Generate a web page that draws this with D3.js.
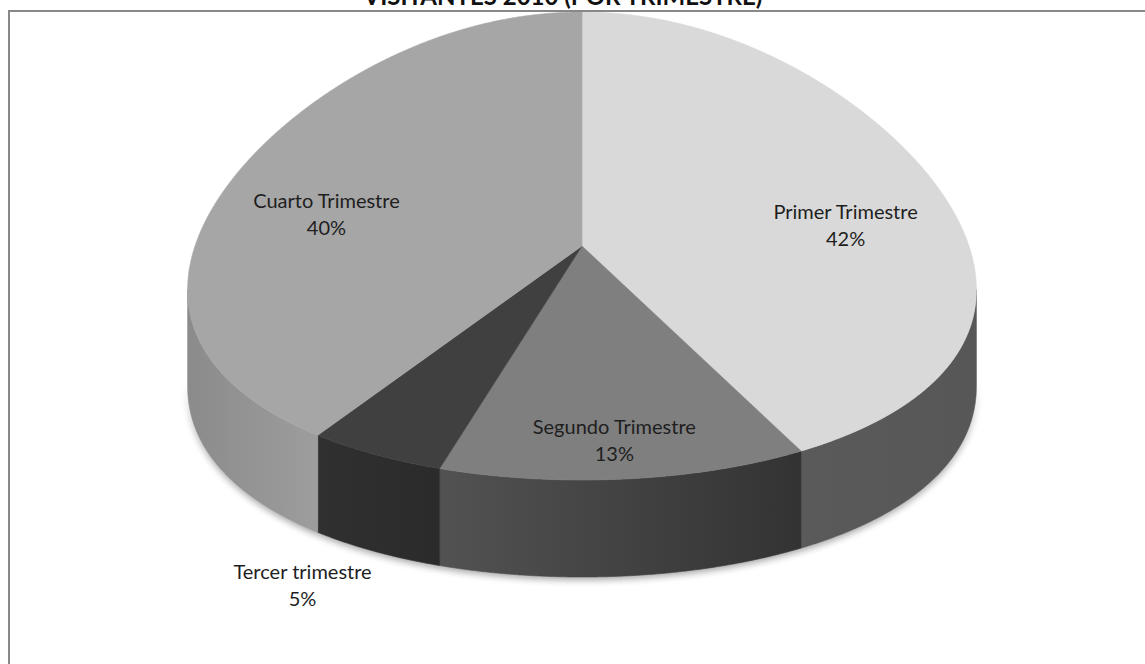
<!DOCTYPE html>
<html>
<head>
<meta charset="utf-8">
<script src="https://cdn.jsdelivr.net/npm/d3@7"></script>
<style>
  html, body { margin: 0; padding: 0; background: #ffffff; }
  svg { display: block; }
</style>
</head>
<body>
<svg id="chart" width="1145" height="664"></svg>
<script>
// ---- data ----
const title = "VISITANTES 2010 (POR TRIMESTRE)";
const categories = ["Primer Trimestre", "Segundo Trimestre", "Tercer trimestre", "Cuarto Trimestre"];
const values = [42, 13, 5, 40];
const percentLabels = ["42%", "13%", "5%", "40%"];

// ---- styles ----
const topColors = ["#d9d9d9", "#7f7f7f", "#404040", "#a6a6a6"];
const sideColorsLeft = ["#5a5a5a", "#525252", "#303030", "#8b8b8b"];
const sideColorsRight = ["#575757", "#333333", "#2b2b2b", "#9d9d9d"];
const labelOutside = [false, false, true, false];

const svg = d3.select("#chart");

// geometry of the 3D pie
const cx = 582, cy = 246, rx = 387, ry = 234, depth = 97, persp = 0.2;

function proj(theta, h) {
  const s = Math.sin(theta), c = Math.cos(theta);
  return [cx + rx * s * (1 - persp * c), cy - ry * c + h * depth];
}
function arcPoints(a0, a1, h) {
  const n = Math.max(2, Math.ceil(Math.abs(a1 - a0) / 0.004));
  return d3.range(n + 1).map(i => proj(a0 + (a1 - a0) * i / n, h));
}

const pie = d3.pie().sort(null).value(d => d)(values);
const line = d3.line();

// silhouette angles (widest points)
const cw = (1 - Math.sqrt(1 + 8 * persp * persp)) / (4 * persp);
const thR = Math.acos(cw), thL = 2 * Math.PI - thR;

const defs = svg.append("defs");
defs.append("filter").attr("id", "shadow").attr("x", "-10%").attr("y", "-10%").attr("width", "120%").attr("height", "130%")
  .append("feGaussianBlur").attr("stdDeviation", 3.5);

// shadow under pie
const shadowPts = arcPoints(thR, thL, 1).map(p => [p[0], p[1] + 3]);
const shadowTop = arcPoints(thL, thR, 1).map(p => [p[0], p[1] - 8]);
svg.append("path")
  .attr("d", line(shadowPts.concat(shadowTop)) + "Z")
  .attr("fill", "#000")
  .attr("opacity", 0.35)
  .attr("filter", "url(#shadow)");

// side walls
const sides = svg.append("g");
pie.forEach((d, i) => {
  const s0 = Math.max(d.startAngle, thR), s1 = Math.min(d.endAngle, thL);
  if (s0 >= s1) return;
  const topPts = arcPoints(s0, s1, 0);
  const botPts = arcPoints(s1, s0, 1);
  const xs = topPts.map(p => p[0]);
  const gid = "side" + i;
  const g = defs.append("linearGradient").attr("id", gid)
    .attr("gradientUnits", "userSpaceOnUse")
    .attr("x1", d3.min(xs)).attr("x2", d3.max(xs)).attr("y1", 0).attr("y2", 0);
  g.append("stop").attr("offset", 0).attr("stop-color", sideColorsLeft[i]);
  g.append("stop").attr("offset", 1).attr("stop-color", sideColorsRight[i]);
  sides.append("path")
    .attr("d", line(topPts.concat(botPts)) + "Z")
    .attr("fill", "url(#" + gid + ")")
    .attr("stroke", "url(#" + gid + ")")
    .attr("stroke-width", 0.6);
});

// top faces
const tops = svg.append("g");
pie.forEach((d, i) => {
  const pts = [[cx, cy]].concat(arcPoints(d.startAngle, d.endAngle, 0));
  tops.append("path")
    .attr("d", line(pts) + "Z")
    .attr("fill", topColors[i])
    .attr("stroke", topColors[i])
    .attr("stroke-width", 0.6);
});

// labels
const labels = svg.append("g")
  .attr("font-family", "Lato, 'Open Sans', sans-serif")
  .attr("font-size", 20)
  .attr("fill", "#1e1e1e")
  .attr("text-anchor", "middle");
pie.forEach((d, i) => {
  const mid = (d.startAngle + d.endAngle) / 2;
  const kk = labelOutside[i] ? 1.35 : 0.74;
  const s = Math.sin(mid), c = Math.cos(mid);
  const x = cx + kk * rx * s * (1 - persp * c);
  const y = cy - kk * ry * c + (labelOutside[i] ? depth * 0.6 : 23);
  labels.append("text").attr("x", x).attr("y", y - 7).text(categories[i]);
  labels.append("text").attr("x", x).attr("y", y + 20).text(percentLabels[i]);
});

// title (partly above the visible area, as in the reference)
svg.append("text")
  .attr("x", 563).attr("y", 5)
  .attr("text-anchor", "middle")
  .attr("font-family", "Lato, 'Open Sans', sans-serif")
  .attr("font-weight", "bold")
  .attr("font-size", 24)
  .attr("fill", "#111")
  .text(title);

// frame
svg.append("rect")
  .attr("x", 9).attr("y", 11)
  .attr("width", 1300).attr("height", 800)
  .attr("fill", "none")
  .attr("stroke", "#888888")
  .attr("stroke-width", 2);
</script>
</body>
</html>
